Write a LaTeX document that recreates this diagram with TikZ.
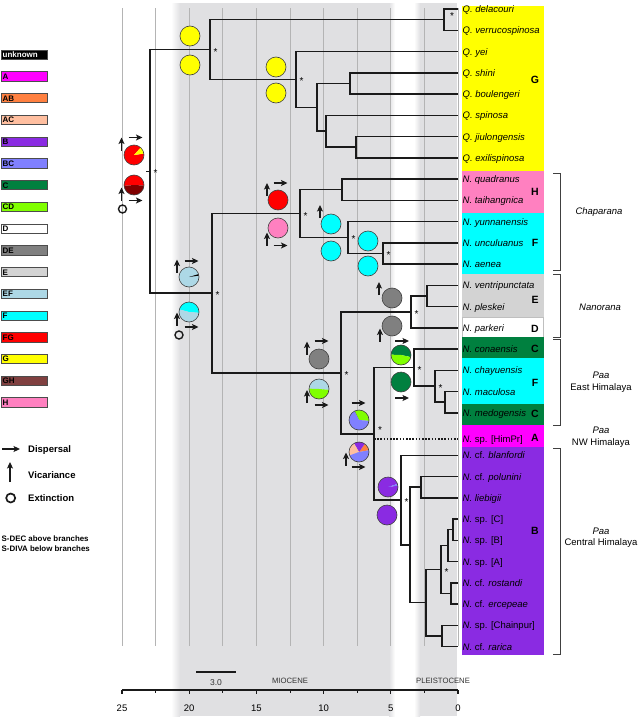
\documentclass[tikz,border=0pt]{standalone}
\usepackage{fontspec}
\setmainfont{Liberation Sans}
\usetikzlibrary{positioning,calc,arrows.meta}
\definecolor{ink}     {HTML}{1A1A1A}
\definecolor{bandgray}{HTML}{E0E0E2}
\definecolor{gridgray}{HTML}{B4B4B4}
\definecolor{cA}  {HTML}{FF00FF}
\definecolor{cAB} {HTML}{FF8040}
\definecolor{cAC} {HTML}{FFBFA0}
\definecolor{cB}  {HTML}{8A2BE2}
\definecolor{cBC} {HTML}{8080FF}
\definecolor{cC}  {HTML}{00803F}
\definecolor{cCD} {HTML}{80FF00}
\definecolor{cD}  {HTML}{FFFFFF}
\definecolor{cDE} {HTML}{808080}
\definecolor{cE}  {HTML}{D3D3D3}
\definecolor{cEF} {HTML}{ADD8E6}
\definecolor{cF}  {HTML}{00FFFF}
\definecolor{cFG} {HTML}{FF0000}
\definecolor{cG}  {HTML}{FFFF00}
\definecolor{cGH} {HTML}{804040}
\definecolor{cH}  {HTML}{FF80C0}
\definecolor{deepred}{HTML}{800000}
\tikzset{
  % --- tree
  br/.style      = {line width=1.5pt, draw=ink},
  dotbr/.style   = {line width=1.4pt, draw=ink, dash pattern=on 1.6pt off 1.6pt},
  grid/.style    = {line width=0.8pt, draw=gridgray},
  sig/.style     = {inner sep=0pt, yshift=-2.1pt, font=\fontsize{10}{10}\selectfont},
  pieline/.style = {draw=black!75, line width=0.6pt},
  % --- event symbols
  dispar/.style  = {line width=1.4pt, draw=ink, -{Stealth[length=6.5pt,width=6pt,inset=1.5pt]}},
  vicar/.style   = {line width=1.4pt, draw=ink, -{Stealth[length=6.5pt,width=6pt,inset=1.5pt]}},
  lostc/.style   = {line width=1.4pt, draw=ink},
  disp/.pic      = {\draw[dispar] (-7pt,0) -- (7pt,0);},
  vic/.pic       = {\draw[vicar] (0,-6.5pt) -- (0,6.5pt);},
  lost/.pic      = {\draw[lostc] (0,0) circle[radius=4pt];},
  % --- texts
  tiplbl/.style  = {anchor=west, inner sep=1pt, text height=6.8pt, text depth=1.8pt,
                    font=\fontsize{9.5}{11}\selectfont},
  arealbl/.style = {inner sep=0pt, font=\fontsize{10.5}{12}\selectfont\bfseries},
  grplbl/.style  = {align=center, inner sep=0pt, font=\fontsize{9.5}{11.5}\selectfont},
  brk/.style     = {line width=0.8pt, draw=black!75},
  legbox/.style  = {draw=black!70, line width=0.8pt, minimum height=9.3pt, text width=44pt,
                    inner sep=1pt, align=left, text height=5.8pt, text depth=0pt,
                    font=\fontsize{8}{8}\selectfont\bfseries},
  legtxt/.style  = {anchor=west, inner sep=0pt, font=\fontsize{9.5}{11}\selectfont\bfseries},
  axlbl/.style   = {inner sep=0pt, font=\fontsize{9.5}{11}\selectfont},
  epoch/.style   = {inner sep=0pt, text=black!80, font=\fontsize{7.7}{9}\selectfont},
}
% pie chart of ancestral areas: centre, list of start/end/colour
\newcommand{\statepie}[2]{%
  \foreach \sa/\sb/\col in {#2} {
    \fill[\col] #1 -- ++(\sa:10pt) arc[start angle=\sa, end angle=\sb, radius=10pt] -- cycle;
  }
  \draw[pieline] #1 circle[radius=10pt];}

\begin{document}
\begin{tikzpicture}[x=1pt,y=1pt]
  \useasboundingbox (0,0) rectangle (638,-720);

  % epoch bands
  \fill[bandgray] (180,-3) rectangle (389,-716);
  \shade[left color=white, right color=bandgray] (171,-3) rectangle (180,-716);
  \shade[left color=bandgray, right color=white] (389,-3) rectangle (395,-716);
  \fill[bandgray] (420,-3) rectangle (457,-716);
  \shade[left color=white, right color=bandgray] (414,-3) rectangle (420,-716);

  % time grid
  \foreach \k in {0,...,10}
    \draw[grid] ({122+33.6*\k},-8) -- ({122+33.6*\k},-646);

  % tips
  \foreach \i in {1,...,31}
    \coordinate (t\i) at (458,{-9-(\i-1)*21.25});
  \coordinate (t21) at (458,-439);

  % internal nodes
  \coordinate (root) at (150,-171.4);
  \coordinate (qcl)  at (210,-49.5);
  \coordinate (qdv)  at (444,-19.6);
  \coordinate (qsub) at (296,-79.4);
  \coordinate (qsb)  at (317,-107.3);
  \coordinate (qshb) at (350,-83.4);
  \coordinate (qspj) at (326,-131.2);
  \coordinate (qje)  at (356,-147.1);
  \coordinate (ncl)  at (212,-293.2);
  \coordinate (chap) at (300,-213.5);
  \coordinate (hcl)  at (342,-189.6);
  \coordinate (fcl)  at (348,-237.4);
  \coordinate (fua)  at (383,-253.4);
  \coordinate (npaa) at (341,-372.9);
  \coordinate (ned)  at (411,-311.8);
  \coordinate (ne)   at (427,-295.9);
  \coordinate (paa)  at (374,-433.9);
  \coordinate (eh)   at (414,-367.6);
  \coordinate (ehb)  at (435,-386.2);
  \coordinate (ehc)  at (445,-402.1);
  \coordinate (ch)   at (401,-500.1);
  \coordinate (chb)  at (410,-544.9);
  \coordinate (chpl) at (421,-487.1);
  \coordinate (chc)  at (426,-602.7);
  \coordinate (chd)  at (441,-569.5);
  \coordinate (che)  at (448,-545.6);
  \coordinate (chf)  at (453,-529.6);
  \coordinate (chg)  at (451,-593.4);
  \coordinate (chh)  at (442,-635.9);

  % branches
  \draw[br] (root) -- ++(-4,0);
  \foreach \pa/\ki in {root/qcl, root/ncl, qcl/qdv, qcl/qsub, qdv/t1, qdv/t2, qsub/t3, qsub/qsb,
      qsb/qshb, qsb/qspj, qshb/t4, qshb/t5, qspj/t6, qspj/qje, qje/t7, qje/t8,
      ncl/chap, ncl/npaa, chap/hcl, chap/fcl, hcl/t9, hcl/t10, fcl/t11, fcl/fua, fua/t12, fua/t13,
      npaa/ned, npaa/paa, ned/ne, ned/t16, ne/t14, ne/t15,
      paa/eh, paa/ch, eh/t17, eh/ehb, ehb/t18, ehb/ehc, ehc/t19, ehc/t20,
      ch/t22, ch/chb, chb/chpl, chb/chc, chpl/t23, chpl/t24, chc/chd, chc/chh,
      chd/che, chd/chg, che/chf, che/t27, chf/t25, chf/t26, chg/t28, chg/t29, chh/t30, chh/t31}
    \draw[br] (\pa) |- (\ki);
  \draw[dotbr] (paa |- t21) -- (t21);

  % support
  \foreach \n in {root, qcl, qsub, ncl, chap, fcl, fua, ned, npaa, eh, ehb, ch, chd}
    \node[sig] at ([xshift=5.5pt]\n) {*};
  \node[sig] at ([shift={(8pt,5.6pt)}]qdv) {*};
  \node[sig] at ([shift={(6pt,6pt)}]paa) {*};

  % ancestral areas (S-DEC above, S-DIVA below)
  \statepie{(134,-155)}{48/368/cFG, 8/48/cG}
  \statepie{(134,-185)}{-3/185/cFG, 185/357/deepred}
  \statepie{(190,-36)}{0/360/cG}
  \statepie{(190,-65)}{0/360/cG}
  \statepie{(276,-67)}{0/360/cG}
  \statepie{(276,-93)}{0/360/cG}
  \statepie{(189,-277)}{17/368/cEF, 8/17/black}
  \statepie{(189,-312)}{-5/165/cF, 165/355/cEF}
  \statepie{(278,-200)}{0/360/cFG}
  \statepie{(278,-228)}{0/360/cH}
  \statepie{(331,-224)}{0/360/cF}
  \statepie{(331,-251)}{0/360/cF}
  \statepie{(368,-241)}{0/360/cF}
  \statepie{(368,-266)}{0/360/cF}
  \statepie{(392,-298)}{0/360/cDE}
  \statepie{(392,-326)}{0/360/cDE}
  \statepie{(319,-359)}{0/360/cDE}
  \statepie{(319,-389)}{-5/178/cEF, 178/355/cCD}
  \statepie{(401,-355)}{-12/178/cC, 178/348/cCD}
  \statepie{(401,-382)}{0/360/cC}
  \statepie{(359,-420)}{-5/115/cCD, 115/118/black!70, 118/355/cBC}
  \statepie{(359,-452)}{10/55/cAB, 55/120/cB, 120/200/cAC, 200/370/cBC}
  \statepie{(388,-487)}{18/368/cB, 8/18/cBC}
  \statepie{(387,-515)}{0/360/cB}

  % events
  \foreach \x/\y in {121.5/144, 121.5/194, 177/266, 177/319, 267/189.5, 267/239,
      320/211.5, 379/288.5, 380/335, 307/348, 307/396.5, 346/459}
    \pic at (\x,-\y) {vic};
  \foreach \x/\y in {135.5/137.5, 135.5/200.5, 191.5/261, 191.5/327, 280.5/183, 280.5/245.5,
      321.5/341, 321.5/405, 402/341, 402/398, 358.5/403, 358.5/467}
    \pic at (\x,-\y) {disp};
  \pic at (122.5,-209) {lost};
  \pic at (179,-335) {lost};

  % area column
  \fill[cG] (462,-6) rectangle (544,-171);
  \fill[cH] (462,-171) rectangle (544,-213);
  \fill[cF] (462,-213) rectangle (544,-274);
  \fill[cE] (462,-274) rectangle (544,-317);
  \filldraw[fill=cD, draw=black!25, line width=0.5pt] (462.3,-317) rectangle (543.7,-337);
  \fill[cC] (462,-337) rectangle (544,-358);
  \fill[cF] (462,-358) rectangle (544,-404);
  \fill[cC] (462,-404) rectangle (544,-425);
  \fill[cA] (462,-425) rectangle (544,-447);
  \fill[cB] (462,-447) rectangle (544,-655);

  \foreach \i/\txt in {1/{\textit{Q. delacouri}}, 2/{\textit{Q. verrucospinosa}}, 3/{\textit{Q. yei}},
      4/{\textit{Q. shini}}, 5/{\textit{Q. boulengeri}}, 6/{\textit{Q. spinosa}},
      7/{\textit{Q. jiulongensis}}, 8/{\textit{Q. exilispinosa}}, 9/{\textit{N. quadranus}},
      10/{\textit{N. taihangnica}}, 11/{\textit{N. yunnanensis}}, 12/{\textit{N. unculuanus}},
      13/{\textit{N. aenea}}, 14/{\textit{N. ventripunctata}}, 15/{\textit{N. pleskei}},
      16/{\textit{N. parkeri}}, 17/{\textit{N. conaensis}}, 18/{\textit{N. chayuensis}},
      19/{\textit{N. maculosa}}, 20/{\textit{N. medogensis}}, 21/{\textit{N.} sp. [HimPr]},
      22/{\textit{N.} cf. \textit{blanfordi}}, 23/{\textit{N.} cf. \textit{polunini}},
      24/{\textit{N. liebigii}}, 25/{\textit{N.} sp. [C]}, 26/{\textit{N.} sp. [B]},
      27/{\textit{N.} sp. [A]}, 28/{\textit{N.} cf. \textit{rostandi}},
      29/{\textit{N.} cf. \textit{ercepeae}}, 30/{\textit{N.} sp. [Chainpur]},
      31/{\textit{N.} cf. \textit{rarica}}}
    \node[tiplbl] (l\i) at ([shift={(3.5pt,-1pt)}]t\i) {\txt};

  \foreach \nm/\y in {G/80, H/192, F/243, E/300, D/329, C/349, F/383, C/414, A/438, B/531}
    \node[arealbl] at (535,-\y) {\nm};

  % groups
  \draw[brk] (553,-173) -- (560,-173) -- (560,-270) -- (553,-270);
  \draw[brk] (553,-274) -- (560,-274) -- (560,-337) -- (553,-337);
  \draw[brk] (553,-339) -- (560,-339) -- (560,-425) -- (553,-425);
  \draw[brk] (553,-448) -- (560,-448) -- (560,-654) -- (553,-654);
  \node[grplbl] (chapg) at (599,-212) {\textit{Chaparana}};
  \node[grplbl] (nang)  at (600,-307) {\textit{Nanorana}};
  \node[grplbl] (paaeh) at (601,-382) {\textit{Paa}\\East Himalaya};
  \node[grplbl] (paanw) at (601,-437) {\textit{Paa}\\NW Himalaya};
  \node[grplbl] (paach) at (601,-537.5) {\textit{Paa}\\Central Himalaya};

  % legend
  \node[legbox, fill=black, text=white] (legunk) at (24.7,-54.7) {unknown};
  \foreach \k/\nm in {1/A, 2/AB, 3/AC, 4/B, 5/BC, 6/C, 7/CD, 8/D, 9/DE, 10/E, 11/EF,
      12/F, 13/FG, 14/G, 15/GH, 16/H}
    \node[legbox, fill=c\nm] (leg\nm) at (24.7,{-54.7-21.74*\k}) {\nm};
  \draw[dispar, line width=1.6pt] (2,-449) -- (20,-449);
  \draw[vicar, line width=1.6pt] (10,-482) -- (10,-462);
  \draw[lostc, line width=1.7pt] (10.7,-498) circle[radius=4.5pt];
  \node[legtxt] (legdisp) at (28,-450) {Dispersal};
  \node[legtxt] (legvic)  at (28,-475) {Vicariance};
  \node[legtxt] (legext)  at (28,-498) {Extinction};
  \node[anchor=west, align=left, inner sep=0pt, font=\fontsize{7.9}{10}\selectfont\bfseries]
    (legmeth) at (1.5,-544) {S-DEC above branches\\S-DIVA below branches};

  % time axis
  \draw[line width=1.5pt, draw=ink] (122,-690) -- (458,-690);
  \foreach \k in {0,2,...,10}
    \draw[line width=1.2pt, draw=ink] ({122+33.6*\k},-690) -- ++(0,-4);
  \foreach \k in {1,3,...,9}
    \draw[line width=1pt, draw=ink] ({122+33.6*\k},-690) -- ++(0,-2.5);
  \foreach \k/\lab in {0/25, 2/20, 4/15, 6/10, 8/5, 10/0}
    \node[axlbl] at ({122+33.6*\k},-708) {\lab};
  \draw[line width=1.2pt, draw=ink] (196,-672) -- (236,-672);
  \node[epoch, font=\fontsize{8.5}{9}\selectfont] (scl) at (216,-683) {3.0};
  \node[epoch] (mio) at (290,-681) {MIOCENE};
  \node[epoch] (ple) at (443,-681) {PLEISTOCENE};
\end{tikzpicture}
\end{document}
